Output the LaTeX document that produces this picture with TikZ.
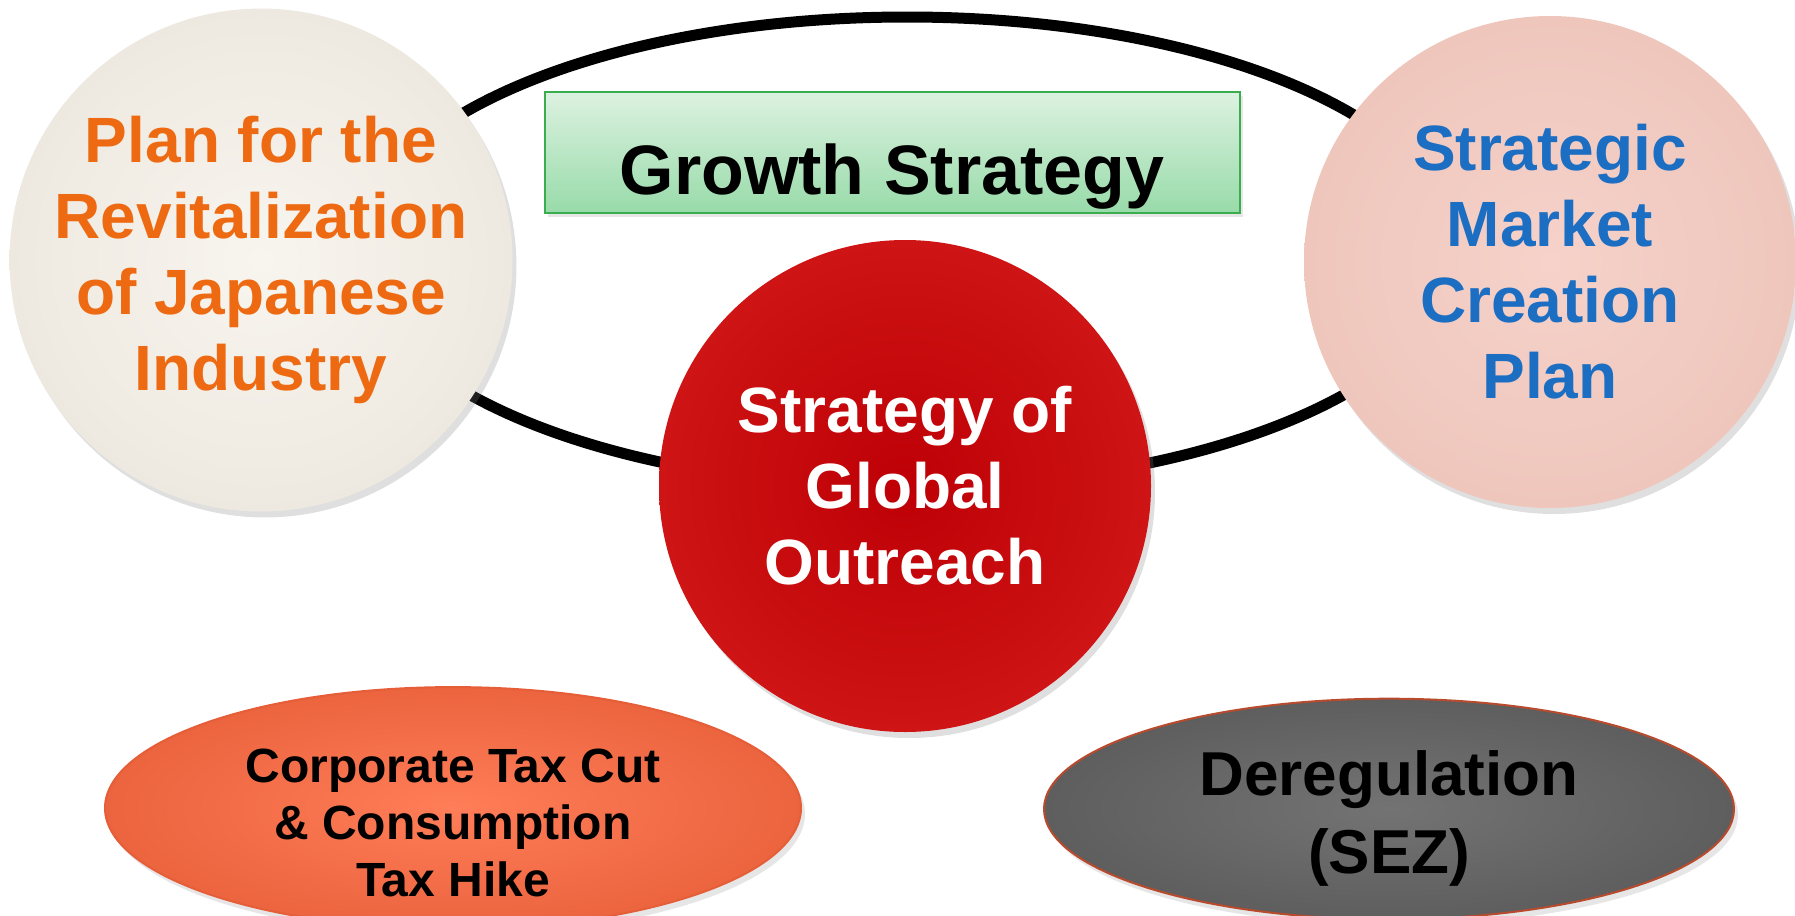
\documentclass[tikz,border=0pt]{standalone}
\usepackage{fontspec}
\setmainfont{Liberation Sans}
\usetikzlibrary{shapes.geometric, shadows}
\definecolor{planorange}{HTML}{EE6A12}
\definecolor{planblue}{HTML}{1C6EC2}
\definecolor{cream}{HTML}{F8F5EF}
\definecolor{creamedge}{HTML}{EEE9E0}
\definecolor{blush}{HTML}{F6D2CA}
\definecolor{blushedge}{HTML}{EEC6BC}
\definecolor{deepred}{HTML}{BE0006}
\definecolor{deepredrim}{HTML}{CE1414}
\definecolor{mint}{HTML}{DDF2E1}
\definecolor{mintdark}{HTML}{98DBA9}
\definecolor{mintline}{HTML}{3AAE4E}
\definecolor{salmon}{HTML}{FF7D58}
\definecolor{salmonedge}{HTML}{E65E38}
\definecolor{slate}{HTML}{737373}
\definecolor{slateedge}{HTML}{5E5E5E}

\begin{document}
\begin{tikzpicture}[x=0.5pt, y=-0.5pt,
  bubble/.style={circle, inner sep=0pt, minimum size=246pt, align=center, font=\bfseries\fontsize{32}{38}\selectfont, drop shadow={opacity=0.25, shadow xshift=2pt, shadow yshift=-3pt}},
  pill/.style={ellipse, inner sep=0pt, line width=1pt, drop shadow={opacity=0.2, shadow xshift=2pt, shadow yshift=-3pt}},
  ring/.style={ellipse, draw=black, line width=5.5pt, inner sep=0pt, minimum width=550pt, minimum height=235pt}]

\useasboundingbox (0,0) rectangle (1795,916);

\node[ring] (loop) at (907,252) {};

\node[bubble, shade, inner color=cream, outer color=creamedge, text=planorange] (pri) at (261,260) {Plan for the\\Revitalization\\of Japanese\\Industry};
\node[bubble, shade, inner color=blush, outer color=blushedge, text=planblue] (smc) at (1550,262) {Strategic\\Market\\Creation\\Plan};
\node[bubble, shade, inner color=deepred, outer color=deepredrim, text=white] (sgo) at (905,486) {Strategy of\\Global\\Outreach};

\node[draw=mintline, line width=1pt, top color=mint, bottom color=mintdark, minimum width=347.5pt, minimum height=60.5pt, text height=44pt, text depth=2pt, font=\bfseries\fontsize{35}{40}\selectfont, drop shadow={opacity=0.2, shadow xshift=1.5pt, shadow yshift=-2pt}] (grw) at (892,152) {Growth Strategy};

\node[pill, draw=salmonedge, shade, inner color=salmon, outer color=salmonedge!80!salmon, minimum width=348pt, minimum height=109pt, font=\bfseries\fontsize{24}{28.5}\selectfont] (tax) at (453,808) {\raisebox{-10pt}[\height][\depth]{\begin{tabular}{@{}c@{}}Corporate Tax Cut\\ \& Consumption\\ Tax Hike\end{tabular}}};
\node[pill, draw=salmonedge!80!black, shade, inner color=slate, outer color=slateedge, minimum width=345pt, minimum height=107pt, font=\bfseries\fontsize{31}{39}\selectfont] (dereg) at (1389,809) {\raisebox{-5pt}[\height][\depth]{\begin{tabular}{@{}c@{}}Deregulation\\ (SEZ)\end{tabular}}};

\end{tikzpicture}
\end{document}
